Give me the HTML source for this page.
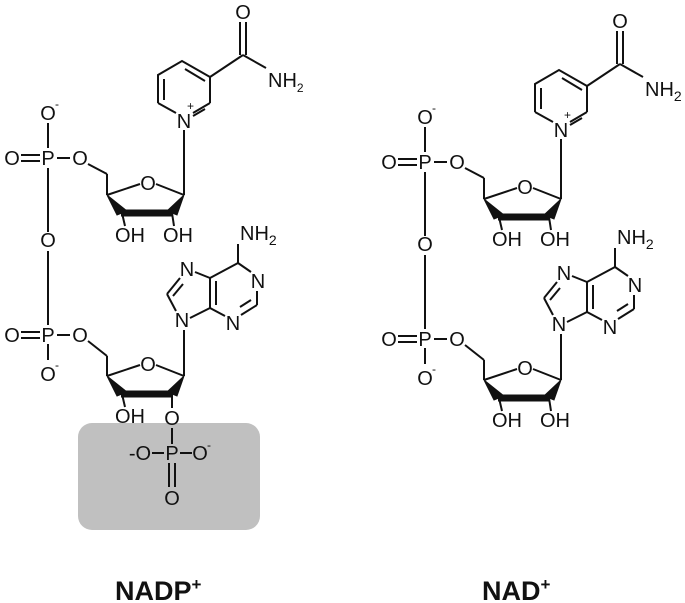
<!DOCTYPE html>
<html><head><meta charset="utf-8"><style>
html,body{margin:0;padding:0;background:#fff;}
svg{display:block;}
text{font-family:"Liberation Sans",Arial,sans-serif;font-size:20px;fill:#111;}
.l{stroke:#111;stroke-width:2;fill:none;}
.w{fill:#111;stroke:#111;stroke-width:1;}
.sup{font-size:12px;}
.big{font-size:27px;font-weight:bold;}
</style></head><body>
<svg width="685" height="603" viewBox="0 0 685 603" xmlns="http://www.w3.org/2000/svg">
<rect x="78" y="423" width="182" height="107" rx="14" fill="#c0c0c0"/>

<!-- NADP -->
<g id="nadp">
 <g>
  <!-- nicotinamide -->
  <line class="l" x1="240" y1="22" x2="240" y2="55"/><line class="l" x1="246" y1="22" x2="246" y2="55"/>
  <text x="243" y="19" text-anchor="middle">O</text>
  <line class="l" x1="243" y1="55" x2="266" y2="68"/>
  <text x="268" y="87">NH<tspan class="sup" dy="5" font-size="14">2</tspan></text>
  <line class="l" x1="243" y1="55" x2="210" y2="77"/>
  <polyline class="l" points="210,77 210,103"/>
  <line class="l" x1="210" y1="103" x2="193" y2="113"/>
  <line class="l" x1="205" y1="109" x2="193" y2="116"/>
  <line class="l" x1="176" y1="113" x2="158" y2="103"/>
  <polyline class="l" points="158,103 158,75 182,61 210,77"/>
  <line class="l" x1="164" y1="79" x2="164" y2="100"/>
  <line class="l" x1="185" y1="69" x2="205" y2="81"/>
  <text x="184" y="128" text-anchor="middle">N</text>
  <text x="187" y="110" class="sup">+</text>
  <line class="l" x1="184" y1="130" x2="184" y2="195"/>
 </g>
 <!-- upper phosphate -->
 <text x="12" y="165" text-anchor="middle">O</text>
 <line class="l" x1="21" y1="155" x2="40" y2="155"/><line class="l" x1="21" y1="161" x2="40" y2="161"/>
 <text x="48" y="165" text-anchor="middle">P</text>
 <line class="l" x1="57" y1="158" x2="70" y2="158"/>
 <text x="80" y="165" text-anchor="middle">O</text>
 <text x="48" y="120" text-anchor="middle">O</text><text x="55" y="108" class="sup">-</text>
 <line class="l" x1="48" y1="123" x2="48" y2="148"/>
 <line class="l" x1="48" y1="168" x2="48" y2="232"/>
 <text x="48" y="247" text-anchor="middle">O</text>
 <line class="l" x1="48" y1="251" x2="48" y2="325"/>
 <!-- upper sugar -->
 <line class="l" x1="88" y1="164" x2="107" y2="174"/>
 <line class="l" x1="107" y1="174" x2="107" y2="195"/>
 <line class="l" x1="107" y1="195" x2="140" y2="184"/>
 <text x="148" y="190" text-anchor="middle">O</text>
 <line class="l" x1="156" y1="184" x2="184" y2="195"/>
 <polygon class="w" points="107,195 117,215 127,211"/>
 <polygon class="w" points="184,195 167,211 177,215"/>
 <line x1="121" y1="213" x2="173" y2="213" stroke="#111" stroke-width="7"/>
 <line class="l" x1="122" y1="213" x2="125" y2="226"/>
 <line class="l" x1="172" y1="213" x2="174" y2="226"/>
 <text x="130" y="242" text-anchor="middle">OH</text>
 <text x="178" y="242" text-anchor="middle">OH</text>
 <!-- adenine -->
 <text x="240" y="240">NH<tspan font-size="14" dy="5">2</tspan></text>
 <text x="239" y="240" text-anchor="middle" fill="none"></text>
 <line class="l" x1="238" y1="244" x2="238" y2="263"/>
 <line class="l" x1="238" y1="263" x2="251" y2="272"/>
 <text x="258" y="288" text-anchor="middle">N</text>
 <line class="l" x1="257" y1="291" x2="257" y2="305"/>
 <line class="l" x1="257" y1="305" x2="241" y2="315"/>
 <line class="l" x1="251" y1="300" x2="240" y2="307"/>
 <text x="233" y="330" text-anchor="middle">N</text>
 <line class="l" x1="225" y1="316" x2="210" y2="308"/>
 <line class="l" x1="210" y1="308" x2="210" y2="278"/>
 <line class="l" x1="216" y1="305" x2="216" y2="281"/>
 <line class="l" x1="210" y1="278" x2="238" y2="263"/>
 <line class="l" x1="210" y1="278" x2="195" y2="272"/>
 <text x="187" y="276" text-anchor="middle">N</text>
 <line class="l" x1="180" y1="278" x2="167" y2="294"/>
 <line class="l" x1="183" y1="284" x2="173" y2="296"/>
 <line class="l" x1="167" y1="294" x2="176" y2="311"/>
 <text x="182" y="327" text-anchor="middle">N</text>
 <line class="l" x1="190" y1="318" x2="210" y2="308"/>
 <line class="l" x1="184" y1="330" x2="184" y2="376"/>
 <!-- lower phosphate -->
 <text x="12" y="342" text-anchor="middle">O</text>
 <line class="l" x1="21" y1="332" x2="40" y2="332"/><line class="l" x1="21" y1="338" x2="40" y2="338"/>
 <text x="48" y="342" text-anchor="middle">P</text>
 <line class="l" x1="57" y1="335" x2="70" y2="335"/>
 <text x="80" y="342" text-anchor="middle">O</text>
 <line class="l" x1="48" y1="344" x2="48" y2="360"/>
 <text x="48" y="381" text-anchor="middle">O</text><text x="55" y="369" class="sup">-</text>
 <!-- lower sugar -->
 <line class="l" x1="88" y1="341" x2="107" y2="356"/>
 <line class="l" x1="107" y1="356" x2="107" y2="376"/>
 <line class="l" x1="107" y1="376" x2="140" y2="365"/>
 <text x="148" y="371" text-anchor="middle">O</text>
 <line class="l" x1="156" y1="365" x2="184" y2="376"/>
 <polygon class="w" points="107,376 117,396 127,392"/>
 <polygon class="w" points="184,376 167,392 177,396"/>
 <line x1="121" y1="394" x2="173" y2="394" stroke="#111" stroke-width="7"/>
 <line class="l" x1="122" y1="394" x2="125" y2="407"/>
 <text x="130" y="423" text-anchor="middle">OH</text>
</g>
<!-- 2' phosphate -->
<line class="l" x1="172" y1="394" x2="172" y2="408"/>
<text x="172" y="425" text-anchor="middle">O</text>
<line class="l" x1="172" y1="428" x2="172" y2="444"/>
<text x="172" y="460" text-anchor="middle">P</text>
<text x="140" y="460" text-anchor="middle">-O</text>
<line class="l" x1="152" y1="453" x2="164" y2="453"/>
<line class="l" x1="180" y1="453" x2="192" y2="453"/>
<text x="200" y="460" text-anchor="middle">O</text><text x="207" y="449" class="sup">-</text>
<line class="l" x1="169" y1="463" x2="169" y2="487"/><line class="l" x1="175" y1="463" x2="175" y2="487"/>
<text x="172" y="505" text-anchor="middle">O</text>

<!-- NAD -->
<g transform="translate(377,4)">
 <g transform="translate(0,5)">
  <line class="l" x1="240" y1="22" x2="240" y2="55"/><line class="l" x1="246" y1="22" x2="246" y2="55"/>
  <text x="243" y="19" text-anchor="middle">O</text>
  <line class="l" x1="243" y1="55" x2="266" y2="68"/>
  <text x="268" y="87">NH<tspan font-size="14" dy="5">2</tspan></text>
  <line class="l" x1="243" y1="55" x2="210" y2="77"/>
  <polyline class="l" points="210,77 210,103"/>
  <line class="l" x1="210" y1="103" x2="193" y2="113"/>
  <line class="l" x1="205" y1="109" x2="193" y2="116"/>
  <line class="l" x1="176" y1="113" x2="158" y2="103"/>
  <polyline class="l" points="158,103 158,75 182,61 210,77"/>
  <line class="l" x1="164" y1="79" x2="164" y2="100"/>
  <line class="l" x1="185" y1="69" x2="205" y2="81"/>
  <text x="184" y="128" text-anchor="middle">N</text>
  <text x="187" y="110" class="sup">+</text>
 </g>
 <line class="l" x1="184" y1="135" x2="184" y2="195"/>
 <text x="12" y="165" text-anchor="middle">O</text>
 <line class="l" x1="21" y1="155" x2="40" y2="155"/><line class="l" x1="21" y1="161" x2="40" y2="161"/>
 <text x="48" y="165" text-anchor="middle">P</text>
 <line class="l" x1="57" y1="158" x2="70" y2="158"/>
 <text x="80" y="165" text-anchor="middle">O</text>
 <text x="48" y="120" text-anchor="middle">O</text><text x="55" y="108" class="sup">-</text>
 <line class="l" x1="48" y1="123" x2="48" y2="148"/>
 <line class="l" x1="48" y1="168" x2="48" y2="232"/>
 <text x="48" y="247" text-anchor="middle">O</text>
 <line class="l" x1="48" y1="251" x2="48" y2="325"/>
 <line class="l" x1="88" y1="164" x2="107" y2="174"/>
 <line class="l" x1="107" y1="174" x2="107" y2="195"/>
 <line class="l" x1="107" y1="195" x2="140" y2="184"/>
 <text x="148" y="190" text-anchor="middle">O</text>
 <line class="l" x1="156" y1="184" x2="184" y2="195"/>
 <polygon class="w" points="107,195 117,215 127,211"/>
 <polygon class="w" points="184,195 167,211 177,215"/>
 <line x1="121" y1="213" x2="173" y2="213" stroke="#111" stroke-width="7"/>
 <line class="l" x1="122" y1="213" x2="125" y2="226"/>
 <line class="l" x1="172" y1="213" x2="174" y2="226"/>
 <text x="130" y="242" text-anchor="middle">OH</text>
 <text x="178" y="242" text-anchor="middle">OH</text>
 <text x="240" y="240">NH<tspan font-size="14" dy="5">2</tspan></text>
 <line class="l" x1="238" y1="244" x2="238" y2="263"/>
 <line class="l" x1="238" y1="263" x2="251" y2="272"/>
 <text x="258" y="288" text-anchor="middle">N</text>
 <line class="l" x1="257" y1="291" x2="257" y2="305"/>
 <line class="l" x1="257" y1="305" x2="241" y2="315"/>
 <line class="l" x1="251" y1="300" x2="240" y2="307"/>
 <text x="233" y="330" text-anchor="middle">N</text>
 <line class="l" x1="225" y1="316" x2="210" y2="308"/>
 <line class="l" x1="210" y1="308" x2="210" y2="278"/>
 <line class="l" x1="216" y1="305" x2="216" y2="281"/>
 <line class="l" x1="210" y1="278" x2="238" y2="263"/>
 <line class="l" x1="210" y1="278" x2="195" y2="272"/>
 <text x="187" y="276" text-anchor="middle">N</text>
 <line class="l" x1="180" y1="278" x2="167" y2="294"/>
 <line class="l" x1="183" y1="284" x2="173" y2="296"/>
 <line class="l" x1="167" y1="294" x2="176" y2="311"/>
 <text x="182" y="327" text-anchor="middle">N</text>
 <line class="l" x1="190" y1="318" x2="210" y2="308"/>
 <line class="l" x1="184" y1="330" x2="184" y2="376"/>
 <text x="12" y="342" text-anchor="middle">O</text>
 <line class="l" x1="21" y1="332" x2="40" y2="332"/><line class="l" x1="21" y1="338" x2="40" y2="338"/>
 <text x="48" y="342" text-anchor="middle">P</text>
 <line class="l" x1="57" y1="335" x2="70" y2="335"/>
 <text x="80" y="342" text-anchor="middle">O</text>
 <line class="l" x1="48" y1="344" x2="48" y2="360"/>
 <text x="48" y="381" text-anchor="middle">O</text><text x="55" y="369" class="sup">-</text>
 <line class="l" x1="88" y1="341" x2="107" y2="356"/>
 <line class="l" x1="107" y1="356" x2="107" y2="376"/>
 <line class="l" x1="107" y1="376" x2="140" y2="365"/>
 <text x="148" y="371" text-anchor="middle">O</text>
 <line class="l" x1="156" y1="365" x2="184" y2="376"/>
 <polygon class="w" points="107,376 117,396 127,392"/>
 <polygon class="w" points="184,376 167,392 177,396"/>
 <line x1="121" y1="394" x2="173" y2="394" stroke="#111" stroke-width="7"/>
 <line class="l" x1="122" y1="394" x2="125" y2="407"/>
 <line class="l" x1="172" y1="394" x2="174" y2="407"/>
 <text x="130" y="423" text-anchor="middle">OH</text>
 <text x="178" y="423" text-anchor="middle">OH</text>
</g>

<text x="115" y="600" class="big">NADP<tspan font-size="17" dy="-10">+</tspan></text>
<text x="482" y="600" class="big">NAD<tspan font-size="17" dy="-10">+</tspan></text>
</svg>
</body></html>
